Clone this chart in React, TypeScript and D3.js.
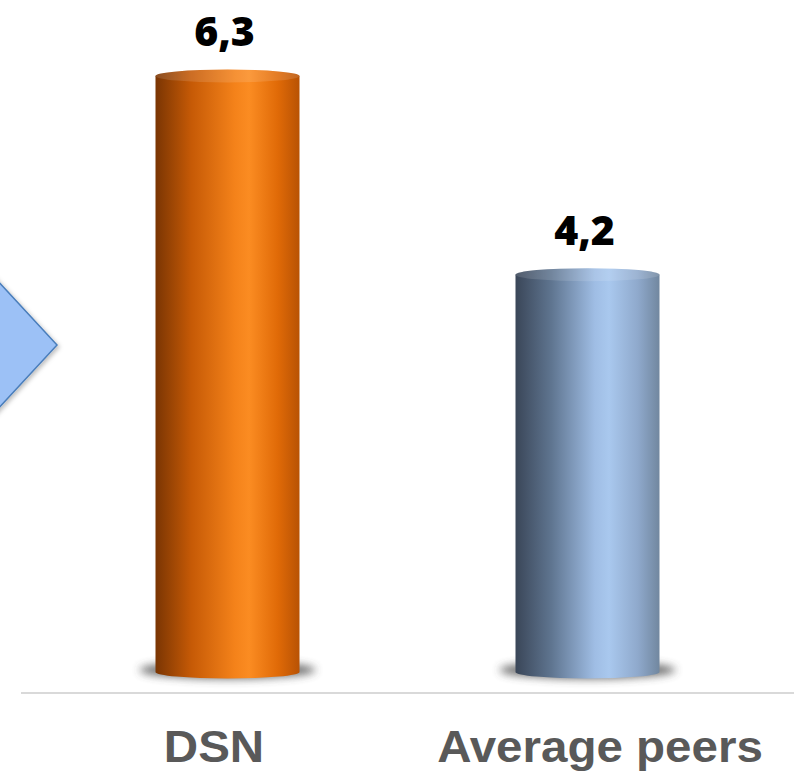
import React, { useEffect, useRef } from 'react';
import * as d3 from 'd3';

const categories = ['DSN', 'Average peers'];
const values = [6.3, 4.2];
const valueLabels = ['6,3', '4,2'];
const palettes = [
  ['#7a3503', '#c65a06', '#f4821a', '#fb8c22', '#e06a07', '#b85204'],
  ['#3a4658', '#5f7590', '#9fbde4', '#a9c8ee', '#8fa9cc', '#71879f'],
];

const W = 794;
const H = 775;

const App: React.FC = () => {
  const svgRef = useRef<SVGSVGElement>(null);

  useEffect(() => {
    if (!svgRef.current) return;
    const svg = d3.select(svgRef.current);
    svg.selectAll('*').remove();

    // bars sit in a narrower band, axis labels use the full width
    const x = d3.scaleBand<string>().domain(categories).range([47.5, 767.5]).paddingInner(0.6).paddingOuter(0.3);
    const xAxis = d3.scaleBand<string>().domain(categories).range([21, 793]);
    const y = d3.scaleLinear().domain([0, 6.3]).range([672, 76]);
    const ry = 6.5;

    const defs = svg.append('defs');
    const blur = defs.append('filter').attr('id', 'shadow').attr('x', '-30%').attr('y', '-100%').attr('width', '160%').attr('height', '300%');
    blur.append('feGaussianBlur').attr('stdDeviation', 4);
    const arrowShadow = defs.append('filter').attr('id', 'ashadow').attr('x', '-50%').attr('y', '-20%').attr('width', '200%').attr('height', '140%');
    arrowShadow.append('feDropShadow').attr('dx', 2).attr('dy', 2).attr('stdDeviation', 2).attr('flood-color', '#000').attr('flood-opacity', 0.25);

    palettes.forEach((stops, i) => {
      const g = defs.append('linearGradient').attr('id', `cyl${i}`).attr('x1', 0).attr('x2', 1).attr('y1', 0).attr('y2', 0);
      const offs = [0, 0.25, 0.55, 0.65, 0.85, 1];
      stops.forEach((c, k) => g.append('stop').attr('offset', offs[k]).attr('stop-color', c));
    });

    // arrow on the left edge
    svg.append('path')
      .attr('d', 'M-40,240 L57,345 L-40,450 Z')
      .attr('fill', '#9cc1f6')
      .attr('stroke', '#4a7ebb')
      .attr('stroke-width', 1.5)
      .attr('filter', 'url(#ashadow)');

    // baseline
    svg.append('line')
      .attr('x1', 21).attr('x2', 794).attr('y1', 693).attr('y2', 693)
      .attr('stroke', '#d9d9d9').attr('stroke-width', 2);

    categories.forEach((c, i) => {
      const x0 = x(c)!;
      const bw = x.bandwidth();
      const cx = x0 + bw / 2;
      const top = y(values[i]);
      const bot = y(0);

      // shadow under cylinder
      svg.append('ellipse')
        .attr('cx', cx).attr('cy', bot - 2).attr('rx', bw / 2 + 16).attr('ry', 9)
        .attr('fill', '#404040').attr('opacity', 0.75).attr('filter', 'url(#shadow)');

      // body
      svg.append('path')
        .attr('d', `M${x0},${top} L${x0},${bot} A${bw / 2},${ry} 0 0 0 ${x0 + bw},${bot} L${x0 + bw},${top} Z`)
        .attr('fill', `url(#cyl${i})`);

      // top cap
      svg.append('ellipse')
        .attr('cx', cx).attr('cy', top).attr('rx', bw / 2).attr('ry', ry)
        .attr('fill', `url(#cyl${i})`);
      svg.append('ellipse')
        .attr('cx', cx).attr('cy', top).attr('rx', bw / 2).attr('ry', ry)
        .attr('fill', '#fff').attr('opacity', 0.12);

      svg.append('text')
        .attr('x', cx - 3).attr('y', top - 30)
        .attr('text-anchor', 'middle')
        .attr('font-family', 'Open Sans')
        .attr('font-weight', 800)
        .attr('font-size', 41)
        .attr('fill', '#000')
        .text(valueLabels[i]);

      const lx = xAxis(c)! + xAxis.bandwidth() / 2;
      svg.append('text')
        .attr('transform', `translate(${lx},762) scale(1.08,1)`)
        .attr('text-anchor', 'middle')
        .attr('font-family', 'Liberation Sans')
        .attr('font-weight', 'bold')
        .attr('font-size', 44)
        .attr('fill', '#595959')
        .text(c);
    });
  }, []);

  return (
    <div style={{ position: 'absolute', left: 0, top: 0 }}>
      <svg ref={svgRef} width={W} height={H} style={{ display: 'block', background: '#fff' }} />
    </div>
  );
};

export default App;
